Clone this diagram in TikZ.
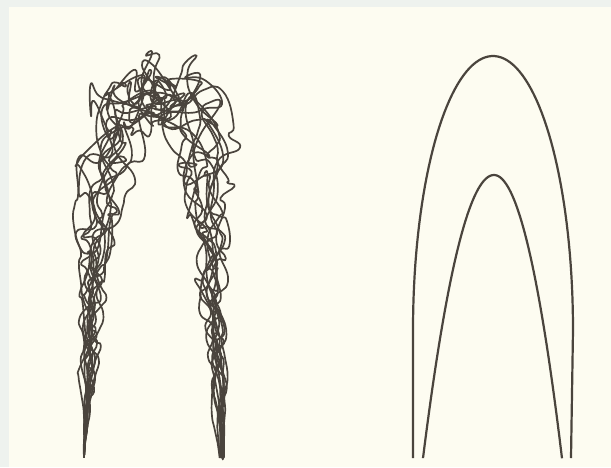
\documentclass[tikz,border=0pt]{standalone}
\definecolor{frame}{HTML}{EEF2EE}
\definecolor{paper}{HTML}{FDFCF1}
\definecolor{ink}{HTML}{4A443D}
\tikzset{
  tangle/.style={draw=ink, line width=1.7pt, line join=round, line cap=round},
  archline/.style={draw=ink, line width=2.2pt, line cap=butt}
}
\begin{document}
\begin{tikzpicture}[x=1pt,y=-1pt]
\useasboundingbox (0,0) rectangle (611,467);
\fill[frame] (0,0) rectangle (611,467);
\fill[paper] (9,7) rectangle (611,467);

% left: tangle of random curves along an arch
\pgfmathsetseed{2024}
\foreach \k in {1,...,12}{
  \xdef\ox{0}\xdef\oy{0}\gdef\pts{}
  \foreach \i in {0,...,55}{
    \pgfmathsetmacro\dd{14.98*\i}
    \pgfmathtruncatemacro\seg{(\dd>=247)+(\dd>=577)}
    \ifcase\seg
      \pgfmathsetmacro\cx{84+0.05*\dd}\pgfmathsetmacro\cy{457-\dd}
    \or
      \pgfmathsetmacro\ang{180-0.545455*(\dd-247)}
      \pgfmathsetmacro\cx{155+52*cos(\ang)}\pgfmathsetmacro\cy{210-125*sin(\ang)}
    \else
      \pgfmathsetmacro\cx{207+0.06*(\dd-577)}\pgfmathsetmacro\cy{210+(\dd-577)}
    \fi
    \pgfmathsetmacro\hf{max(0,(457-\cy)/370)}
    \pgfmathsetmacro\env{min(1,min(\dd,824-\dd)/95)}
    \pgfmathsetmacro\amp{\env*(6+17*\hf^1.6)}
    \pgfmathsetmacro\nx{0.68*\ox+\amp*rand}
    \pgfmathsetmacro\ny{0.68*\oy+\amp*rand}
    \xdef\ox{\nx}\xdef\oy{\ny}
    \pgfmathsetmacro\px{\cx+\nx}
    \pgfmathsetmacro\py{\cy+\ny}
    \xdef\pts{\pts (\px,\py)}
  }
  \draw[tangle] plot[smooth,tension=0.9] coordinates {\pts};
}

% right: two smooth arches
\coordinate (oL) at (413,458);
\coordinate (oR) at (571,458);
\coordinate (iL) at (423,458);
\coordinate (iR) at (562,458);
\draw[archline] (oL) -- (413,330)
  -- plot[domain=180:0,samples=80] ({493+80*cos(\x)},{330-274*sin(\x)})
  -- (oR);
\draw[archline] (iL)
  -- plot[domain=-71:0,samples=50] ({494+\x},{175+(\x/4.22)^2})
  -- plot[domain=0:68,samples=50] ({494+\x},{175+(\x/4.04)^2});
\end{tikzpicture}
\end{document}
